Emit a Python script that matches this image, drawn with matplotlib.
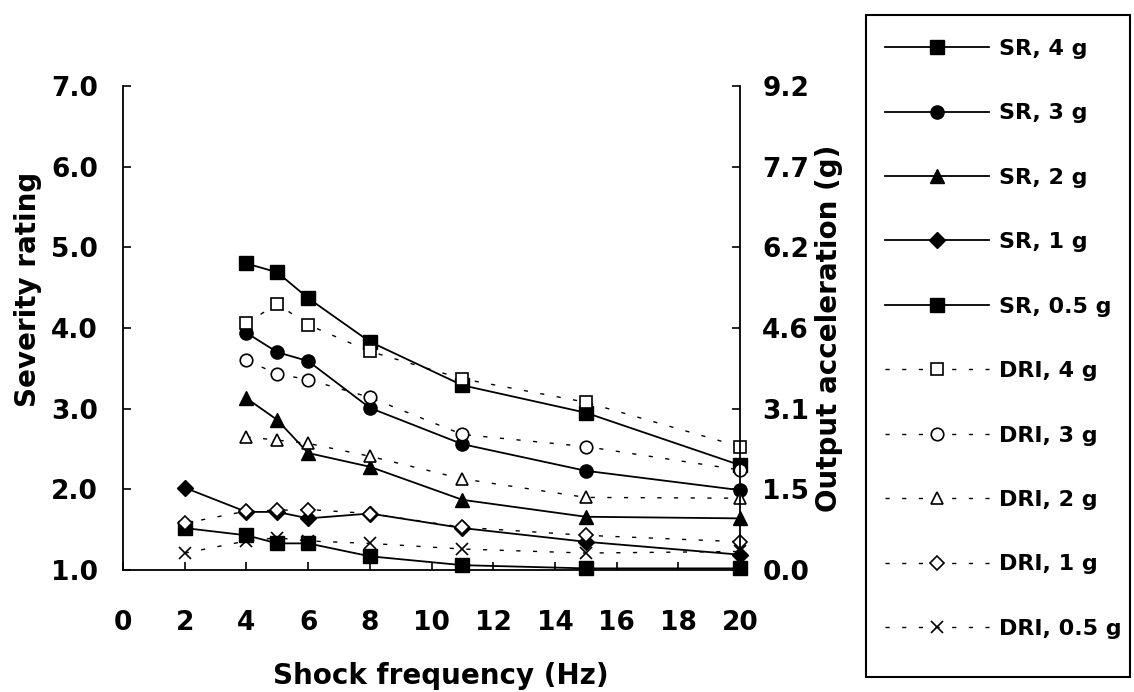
import matplotlib
matplotlib.use("Agg")
import matplotlib.pyplot as plt
from matplotlib.patches import Rectangle

# Shock frequencies (Hz)
freq_full = [2, 4, 5, 6, 8, 11, 15, 20]
freq_high = [4, 5, 6, 8, 11, 15, 20]

# Severity rating (SR) per input acceleration
sr_4g = [4.80, 4.69, 4.37, 3.83, 3.29, 2.95, 2.30]
sr_3g = [3.94, 3.70, 3.59, 3.01, 2.56, 2.23, 1.99]
sr_2g = [3.13, 2.86, 2.45, 2.28, 1.87, 1.66, 1.64]
sr_1g = [2.02, 1.72, 1.72, 1.64, 1.70, 1.52, 1.35, 1.19]
sr_05g = [1.52, 1.43, 1.33, 1.33, 1.17, 1.06, 1.02, 1.02]

# Dynamic response index (DRI) per input acceleration
dri_4g = [4.06, 4.30, 4.04, 3.71, 3.37, 3.08, 2.53]
dri_3g = [3.60, 3.43, 3.36, 3.14, 2.68, 2.53, 2.24]
dri_2g = [2.65, 2.61, 2.57, 2.41, 2.13, 1.90, 1.89]
dri_1g = [1.58, 1.73, 1.74, 1.75, 1.70, 1.53, 1.43, 1.35]
dri_05g = [1.21, 1.36, 1.40, 1.36, 1.33, 1.26, 1.21, 1.23]

severity_ticks = [1.0, 2.0, 3.0, 4.0, 5.0, 6.0, 7.0]
accel_labels = ["0.0", "1.5", "3.1", "4.6", "6.2", "7.7", "9.2"]
freq_ticks = [0, 2, 4, 6, 8, 10, 12, 14, 16, 18, 20]

plt.rcParams.update({"font.family": "DejaVu Sans", "font.weight": "bold"})

W, H = 1134, 692
fig = plt.figure(figsize=(W / 100, H / 100), dpi=100)
ax = fig.add_axes([0.1085, 0.1763, 0.5441, 0.6994])

dotted = (0, (3, 9))
series = [
    ("SR, 4 g", freq_high, sr_4g, "s", True),
    ("SR, 3 g", freq_high, sr_3g, "o", True),
    ("SR, 2 g", freq_high, sr_2g, "^", True),
    ("SR, 1 g", freq_full, sr_1g, "D", True),
    ("SR, 0.5 g", freq_full, sr_05g, "s", True),
    ("DRI, 4 g", freq_high, dri_4g, "s", False),
    ("DRI, 3 g", freq_high, dri_3g, "o", False),
    ("DRI, 2 g", freq_high, dri_2g, "^", False),
    ("DRI, 1 g", freq_full, dri_1g, "D", False),
    ("DRI, 0.5 g", freq_full, dri_05g, "x", False),
]

for label, x, y, marker, filled in series:
    ms = 9.5 if marker != "D" else 8
    if filled:
        ax.plot(x, y, "-", color="black", lw=1.3, marker=marker, ms=ms,
                mfc="black", mec="black", label=label, clip_on=False)
    else:
        ax.plot(x, y, linestyle=dotted, color="black", lw=1.0, marker=marker,
                ms=ms - 0.5, mfc="white", mec="black", mew=1.2, label=label,
                clip_on=False)

ax.set_xlim(0, 20)
ax.set_ylim(1.0, 7.0)
ax.set_xticks(freq_ticks)
ax.set_yticks(severity_ticks, [f"{v:.1f}" for v in severity_ticks])
ax.tick_params(axis="both", direction="in", length=6, width=1.2,
               labelsize=19, colors="black")
ax.tick_params(axis="x", pad=29)
ax.tick_params(axis="y", pad=18)
ax.spines["top"].set_visible(False)
ax.spines["right"].set_visible(False)
for side in ("left", "bottom"):
    ax.spines[side].set_linewidth(1.3)

ax.set_xlabel("Shock frequency (Hz)", fontsize=20, fontweight="bold")
ax.xaxis.set_label_coords(0.515, -0.19)
ax.set_ylabel("Severity rating", fontsize=20, fontweight="bold")
ax.yaxis.set_label_coords(-0.131, 0.579)

# Secondary scale: output acceleration on the same vertical positions
ax2 = ax.twinx()
ax2.set_ylim(ax.get_ylim())
ax2.set_yticks(severity_ticks, accel_labels)
ax2.tick_params(axis="y", direction="in", length=6, width=1.2,
                labelsize=19, pad=16)
for side in ("top", "left", "bottom"):
    ax2.spines[side].set_visible(False)
ax2.spines["right"].set_linewidth(1.3)
ax2.set_ylabel("Output acceleration (g)", fontsize=20, fontweight="bold")

# Legend drawn without its own frame; a plain box is placed around it
box_l, box_t, box_r, box_b = 866, 15, 1130, 677
fig.patches.append(Rectangle((box_l / W, 1 - box_b / H),
                             (box_r - box_l) / W, (box_b - box_t) / H,
                             transform=fig.transFigure, fill=False,
                             edgecolor="black", lw=1.5))

handles, labels = ax.get_legend_handles_labels()
fig.legend(handles, labels, loc="upper left",
           bbox_to_anchor=(box_l / W, 1 - 20 / H), borderaxespad=0,
           fontsize=16, handlelength=4.7, handletextpad=0.45,
           labelspacing=2.0, borderpad=0.85, numpoints=1, frameon=False)

fig.savefig("out.png", dpi=100)
